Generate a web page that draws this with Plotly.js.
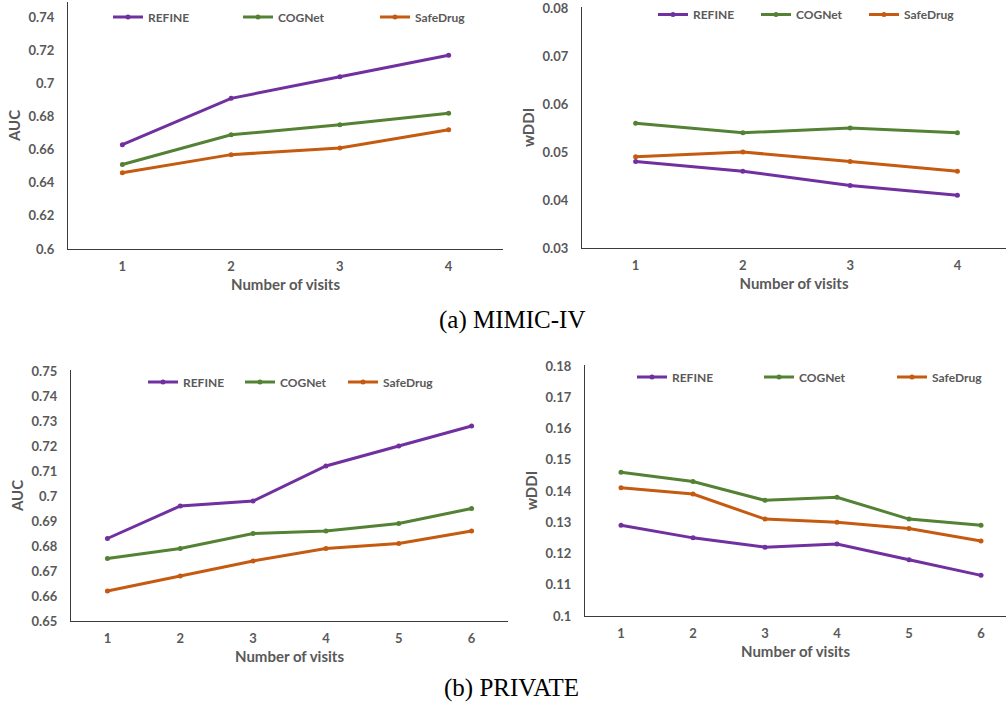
<!DOCTYPE html>
<html>
<head>
<meta charset="utf-8">
<script src="https://cdn.plot.ly/plotly-3.0.1.min.js"></script>
<style>html,body{margin:0;padding:0;background:#fff;overflow:hidden;}#chart{width:1006px;height:707px;}</style>
</head>
<body>
<div id="chart"></div>
<script>
// ---- data ----
const seriesNames = ["REFINE", "COGNet", "SafeDrug"];
const seriesColors = ["#7030A0", "#548235", "#C55A11"];

const visitsMimic = [1, 2, 3, 4];
const mimicAucRefine   = [0.663, 0.691, 0.704, 0.717];
const mimicAucCognet   = [0.651, 0.669, 0.675, 0.682];
const mimicAucSafedrug = [0.646, 0.657, 0.661, 0.672];

const mimicDdiRefine   = [0.048, 0.046, 0.043, 0.041];
const mimicDdiCognet   = [0.056, 0.054, 0.055, 0.054];
const mimicDdiSafedrug = [0.049, 0.050, 0.048, 0.046];

const visitsPrivate = [1, 2, 3, 4, 5, 6];
const privAucRefine   = [0.683, 0.696, 0.698, 0.712, 0.720, 0.728];
const privAucCognet   = [0.675, 0.679, 0.685, 0.686, 0.689, 0.695];
const privAucSafedrug = [0.662, 0.668, 0.674, 0.679, 0.681, 0.686];

const privDdiRefine   = [0.129, 0.125, 0.122, 0.123, 0.118, 0.113];
const privDdiCognet   = [0.146, 0.143, 0.137, 0.138, 0.131, 0.129];
const privDdiSafedrug = [0.141, 0.139, 0.131, 0.130, 0.128, 0.124];

const xTitle = "Number of visits";
const captionA = "(a) MIMIC-IV";
const captionB = "(b) PRIVATE";

// ---- layout helpers ----
const W = 1006, H = 707;
const px = x => x / W;
const py = y => 1 - y / H;
const gray = "#595959";
const fam = "Lato, 'Open Sans', sans-serif";
const tickFont = {family: fam, size: 13, color: gray, weight: "bold"};
const titleFont = {family: fam, size: 15, color: gray, weight: "bold"};
const legFont = {family: fam, size: 12, color: gray, weight: "bold"};

// one legend per entry so that each entry sits at its own spot
let legendCount = 0;
const legends = {};
function addLegend(lineStartX, centerY) {
  legendCount += 1;
  const key = legendCount === 1 ? "legend" : "legend" + legendCount;
  const atTop = centerY === null;
  legends[key] = {
    orientation: "h", x: px(lineStartX - 5), y: atTop ? 1 : py(centerY),
    xanchor: "left", yanchor: atTop ? "top" : "middle", xref: "paper", yref: "paper",
    font: legFont, bgcolor: "rgba(0,0,0,0)", borderwidth: 0
  };
  return key;
}

function mk(x, y, idx, xa, ya, legX, legY) {
  return {
    x: x, y: y, type: "scatter", mode: "lines+markers",
    name: seriesNames[idx], xaxis: xa, yaxis: ya, legend: addLegend(legX, legY),
    line: {color: seriesColors[idx], width: 3},
    marker: {color: seriesColors[idx], size: 5, symbol: "circle"},
    hoverinfo: "x+y+name"
  };
}

const data = [
  mk(visitsMimic, mimicAucRefine,   0, "x", "y", 113, 17),
  mk(visitsMimic, mimicAucCognet,   1, "x", "y", 243, 17),
  mk(visitsMimic, mimicAucSafedrug, 2, "x", "y", 380, 17),
  mk(visitsMimic, mimicDdiRefine,   0, "x2", "y2", 658, null),
  mk(visitsMimic, mimicDdiCognet,   1, "x2", "y2", 761, null),
  mk(visitsMimic, mimicDdiSafedrug, 2, "x2", "y2", 869, null),
  mk(visitsPrivate, privAucRefine,   0, "x3", "y3", 148, 382),
  mk(visitsPrivate, privAucCognet,   1, "x3", "y3", 245, 382),
  mk(visitsPrivate, privAucSafedrug, 2, "x3", "y3", 348, 382),
  mk(visitsPrivate, privDdiRefine,   0, "x4", "y4", 637, 377),
  mk(visitsPrivate, privDdiCognet,   1, "x4", "y4", 764, 377),
  mk(visitsPrivate, privDdiSafedrug, 2, "x4", "y4", 897, 377)
];

function xax(domain, range, anchor, tickvals) {
  return {
    domain: domain, range: range, anchor: anchor,
    tickmode: "array", tickvals: tickvals,
    showgrid: false, zeroline: false, showline: true,
    linecolor: "#3a3a3a", linewidth: 1.3, ticks: "",
    ticklabelstandoff: 5, tickfont: tickFont, ticklabeloverflow: "allow",
    title: {text: xTitle, font: titleFont, standoff: 6},
    fixedrange: true
  };
}
function yax(domain, range, anchor, dtick, tick0, title) {
  return {
    domain: domain, range: range, anchor: anchor,
    dtick: dtick, tick0: tick0,
    showgrid: false, zeroline: false, showline: true,
    linecolor: "#3a3a3a", linewidth: 1.3, ticks: "",
    ticklabelstandoff: 10, tickfont: tickFont, ticklabeloverflow: "allow",
    title: {text: title, font: titleFont, standoff: 4},
    fixedrange: true
  };
}

const layout = Object.assign({
  width: W, height: H,
  margin: {l: 0, r: 0, t: 0, b: 0},
  paper_bgcolor: "#ffffff", plot_bgcolor: "#ffffff",
  showlegend: true,
  xaxis: xax([px(68), px(503)], [0.5, 4.5], "y", visitsMimic),
  yaxis: yax([py(249), py(2)], [0.6, 0.7492], "x", 0.02, 0.6, "AUC"),
  xaxis2: xax([px(582), 1], [0.5, 4.453], "y2", visitsMimic),
  yaxis2: yax([py(248), py(7)], [0.03, 0.0802], "x2", 0.01, 0.03, "wDDI"),
  xaxis3: xax([px(71), px(508)], [0.5, 6.5], "y3", visitsPrivate),
  yaxis3: yax([py(621), py(370)], [0.65, 0.7504], "x3", 0.01, 0.65, "AUC"),
  xaxis4: xax([px(585), 1], [0.5, 6.347], "y4", visitsPrivate),
  yaxis4: yax([py(616), py(365)], [0.1, 0.1803], "x4", 0.01, 0.1, "wDDI"),
  annotations: [
    {text: captionA, xref: "paper", yref: "paper", x: px(512), y: py(320),
     xanchor: "center", yanchor: "middle", showarrow: false,
     font: {family: "'Liberation Serif', 'Times New Roman', serif", size: 25, color: "#000"}},
    {text: captionB, xref: "paper", yref: "paper", x: px(512), y: py(688),
     xanchor: "center", yanchor: "middle", showarrow: false,
     font: {family: "'Liberation Serif', 'Times New Roman', serif", size: 25, color: "#000"}}
  ]
}, legends);

Plotly.newPlot("chart", data, layout, {displayModeBar: false});
</script>
</body>
</html>
